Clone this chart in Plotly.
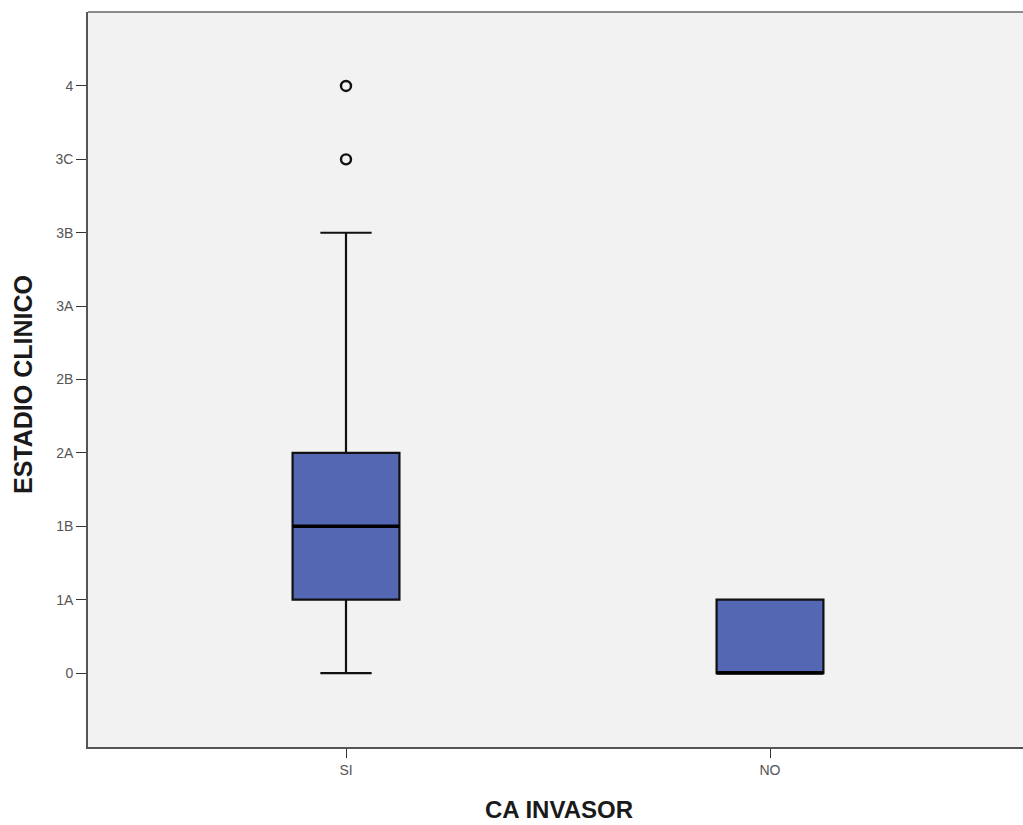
import plotly.graph_objects as go

# Ordinal stage labels, mapped to positions 0..8 on the y axis
stage_labels = ["0", "1A", "1B", "2A", "2B", "3A", "3B", "3C", "4"]
stage_pos = list(range(len(stage_labels)))

groups = ["SI", "NO"]
q1 = [1, 0]
median = [2, 0]
q3 = [3, 1]
lower_fence = [0, 0]
upper_fence = [6, 1]

# Outlying cases (group, stage position)
outlier_group = ["SI", "SI"]
outlier_stage = [7, 8]

box_width = 0.252
fill_color = "#5467b3"

fig = go.Figure()

fig.add_trace(go.Box(
    x=groups,
    q1=q1,
    median=median,
    q3=q3,
    lowerfence=lower_fence,
    upperfence=upper_fence,
    width=box_width,
    whiskerwidth=0.48,
    fillcolor=fill_color,
    line=dict(color="#111111", width=2.2),
    boxpoints=False,
    hoverinfo="skip",
    showlegend=False,
))

fig.add_trace(go.Scatter(
    x=outlier_group,
    y=outlier_stage,
    mode="markers",
    marker=dict(symbol="circle-open", size=10, color="#111111", line=dict(width=2.4, color="#111111")),
    showlegend=False,
    hoverinfo="skip",
))

# Heavier median bars drawn over each box
for i, m in enumerate(median):
    fig.add_shape(
        type="line", xref="x", yref="y",
        x0=i - box_width / 2, x1=i + box_width / 2, y0=m, y1=m,
        line=dict(color="#000000", width=3.4),
    )

# Top frame line of the plot area
fig.add_shape(
    type="line", xref="paper", yref="paper",
    x0=0, x1=1, y0=1, y1=1,
    line=dict(color="#666666", width=1.6),
)

tick_font = dict(family="Liberation Sans, Arial, sans-serif", size=14, color="#555555")
title_font_x = dict(family="Liberation Sans, Arial, sans-serif", size=24, color="#1a1a1a")
title_font_y = dict(family="Liberation Sans, Arial, sans-serif", size=25, color="#1a1a1a")

fig.update_layout(
    width=1023,
    height=825,
    margin=dict(l=88, r=0, t=12, b=78),
    paper_bgcolor="white",
    plot_bgcolor="#f2f2f2",
    xaxis=dict(
        type="category",
        categoryorder="array",
        categoryarray=groups,
        range=[-0.6085, 1.5967],
        showgrid=False,
        zeroline=False,
        showline=True,
        linecolor="#555555",
        linewidth=1.6,
        ticks="outside",
        ticklen=9,
        tickwidth=1.3,
        tickcolor="#333333",
        tickfont=tick_font,
    ),
    yaxis=dict(
        range=[-1.008, 9.008],
        tickvals=stage_pos,
        ticktext=stage_labels,
        showgrid=False,
        zeroline=False,
        showline=True,
        linecolor="#555555",
        linewidth=1.6,
        ticks="outside",
        ticklen=10,
        tickwidth=1.3,
        tickcolor="#333333",
        tickfont=tick_font,
    ),
    annotations=[
        dict(
            text="<b>CA INVASOR</b>", xref="paper", yref="paper",
            x=(559 - 88) / 935, y=-(809 - 747) / 735,
            xanchor="center", yanchor="middle", showarrow=False, font=title_font_x,
        ),
        dict(
            text="<b>ESTADIO CLINICO</b>", xref="paper", yref="paper",
            x=(23 - 88) / 935, y=(747 - 385) / 735, textangle=-90,
            xanchor="center", yanchor="middle", showarrow=False, font=title_font_y,
        ),
    ],
)

fig.write_html("out.html")
